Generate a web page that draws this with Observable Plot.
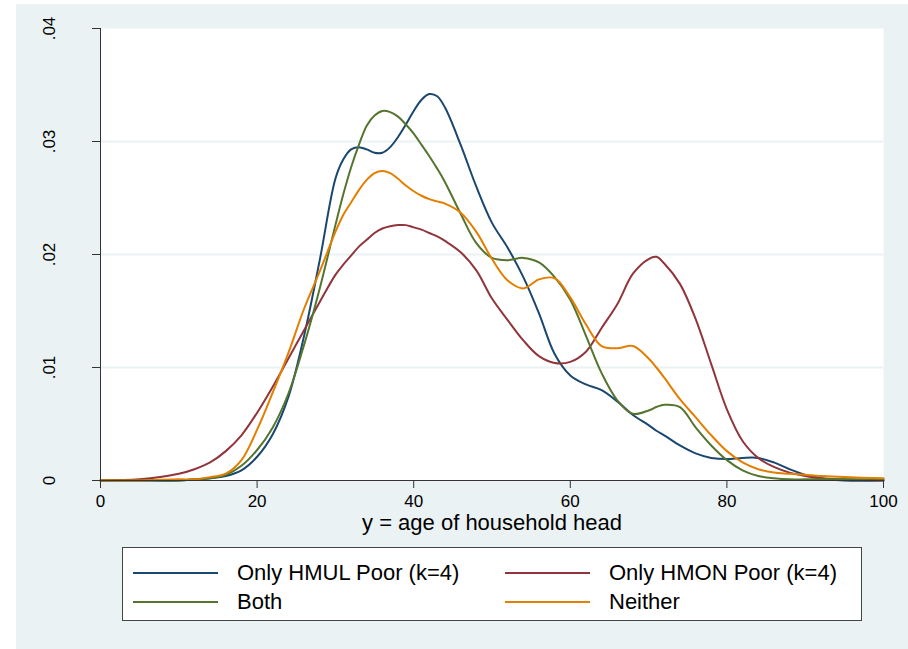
<!DOCTYPE html>
<html>
<head>
<meta charset="utf-8">
<script src="https://cdn.jsdelivr.net/npm/d3@7"></script>
<script src="https://cdn.jsdelivr.net/npm/@observablehq/plot@0.6"></script>
<style>
  html, body { margin: 0; padding: 0; background: #ffffff; }
  body { width: 908px; height: 649px; position: relative; overflow: hidden;
         font-family: "Liberation Sans", Arial, Helvetica, sans-serif; color: #000; }
  #panel { position: absolute; left: 16px; top: 4px; width: 892px; height: 645px; background: #eaf2f3; }
  #chart { position: absolute; left: 0; top: 0; }
  #legend { position: absolute; left: 106px; top: 543px; width: 740px; height: 74px;
            background: #fff; border: 1px solid #444; box-sizing: border-box; }
  .key { position: absolute; height: 2px; width: 85px; }
  .lab { position: absolute; font-size: 22px; line-height: 26px; white-space: nowrap; }
</style>
</head>
<body>
<div id="panel">
  <div id="chart"></div>
  <div id="legend"></div>
</div>
<script>
// ---- data ----
const ages = [0, 5, 10, 12, 14, 16, 18, 20, 22, 24, 26, 28, 30, 31, 32, 33, 34, 35, 36, 37, 38, 39, 40, 41, 42, 43, 44, 46, 48, 50, 52, 54, 56, 58, 60, 62, 64, 66, 68, 70, 71, 72, 74, 76, 78, 80, 82, 84, 86, 88, 90, 92, 95, 100];

const onlyHMUL = [0, 0, 0, 0.0001, 0.0002, 0.0004, 0.0009, 0.0021, 0.0041, 0.0074, 0.0128, 0.0195, 0.0267, 0.0284, 0.0293, 0.0295, 0.0293, 0.0290, 0.0290, 0.0295, 0.0304, 0.0315, 0.0327, 0.0337, 0.0342, 0.0340, 0.0330, 0.0297, 0.0260, 0.0228, 0.0206, 0.0180, 0.0148, 0.0112, 0.0093, 0.0085, 0.0080, 0.0070, 0.0058, 0.0049, 0.0044, 0.0040, 0.0031, 0.0024, 0.0020, 0.0019, 0.0020, 0.0020, 0.0016, 0.0010, 0.0005, 0.0002, 0.0000, 0.0000];

const onlyHMON = [0, 0.0001, 0.0006, 0.0010, 0.0016, 0.0026, 0.0040, 0.0060, 0.0083, 0.0108, 0.0133, 0.0158, 0.0182, 0.0191, 0.0199, 0.0207, 0.0213, 0.0219, 0.0223, 0.0225, 0.0226, 0.0226, 0.0224, 0.0222, 0.0219, 0.0216, 0.0212, 0.0202, 0.0186, 0.0161, 0.0142, 0.0124, 0.0110, 0.0104, 0.0105, 0.0114, 0.0135, 0.0156, 0.0183, 0.0196, 0.0198, 0.0192, 0.0174, 0.0143, 0.0103, 0.0063, 0.0035, 0.0020, 0.0012, 0.0007, 0.0004, 0.0002, 0.0001, 0];

const both = [0, 0, 0, 0.0001, 0.0002, 0.0005, 0.0013, 0.0027, 0.0047, 0.0077, 0.0120, 0.0170, 0.0226, 0.0253, 0.0277, 0.0297, 0.0314, 0.0323, 0.0327, 0.0326, 0.0322, 0.0315, 0.0307, 0.0297, 0.0287, 0.0276, 0.0264, 0.0236, 0.0210, 0.0197, 0.0195, 0.0197, 0.0193, 0.0180, 0.0160, 0.0128, 0.0095, 0.0071, 0.0059, 0.0062, 0.0065, 0.0067, 0.0065, 0.0047, 0.0031, 0.0018, 0.0009, 0.0004, 0.0002, 0.0001, 0.0001, 0.0001, 0.0001, 0.0001];

const neither = [0, 0, 0.0001, 0.0001, 0.0003, 0.0006, 0.0018, 0.0045, 0.0078, 0.0113, 0.0152, 0.0185, 0.0220, 0.0235, 0.0246, 0.0257, 0.0266, 0.0272, 0.0274, 0.0272, 0.0267, 0.0261, 0.0256, 0.0252, 0.0249, 0.0247, 0.0245, 0.0237, 0.0220, 0.0196, 0.0177, 0.0170, 0.0178, 0.0179, 0.0162, 0.0138, 0.0119, 0.0117, 0.0119, 0.0108, 0.0100, 0.0091, 0.0072, 0.0056, 0.0040, 0.0026, 0.0016, 0.0010, 0.0007, 0.0006, 0.0005, 0.0004, 0.0003, 0.0002];

const seriesNames = ["Only HMUL Poor (k=4)", "Only HMON Poor (k=4)", "Both", "Neither"];
const seriesColors = ["#1a476f", "#90353b", "#55752f", "#e37e00"];
const xTicks = [0, 20, 40, 60, 80, 100];
const yTicks = [0, 0.01, 0.02, 0.03, 0.04];
const yTickLabels = ["0", ".01", ".02", ".03", ".04"];
const gridTicks = [0.01, 0.02, 0.03];
const xTitle = "y = age of household head";

// ---- build long table ----
const seriesValues = [onlyHMUL, onlyHMON, both, neither];
const rows = [];
seriesValues.forEach((vals, s) => {
  ages.forEach((a, i) => rows.push({ age: a, density: vals[i], series: seriesNames[s] }));
});

const FONT = "'Liberation Sans', Arial, Helvetica, sans-serif";

const chart = Plot.plot({
  width: 892,
  height: 540,
  marginLeft: 84,
  marginRight: 25,
  marginTop: 24,
  marginBottom: 64,
  style: { background: "transparent", fontFamily: FONT, color: "#000", overflow: "visible" },
  x: { domain: [0, 100] },
  y: { domain: [0, 0.04] },
  color: { domain: seriesNames, range: seriesColors },
  marks: [
    Plot.frame({ fill: "#ffffff", stroke: null }),
    Plot.gridY(gridTicks, { stroke: "#eaf2f3", strokeOpacity: 1, strokeWidth: 2 }),
    Plot.line(rows, { x: "age", y: "density", z: "series", stroke: "series", strokeWidth: 2, curve: "catmull-rom" }),
    Plot.ruleX([0], { stroke: "#333", strokeWidth: 1 }),
    Plot.ruleY([0], { stroke: "#333", strokeWidth: 1 }),
    Plot.axisX({ ticks: xTicks, tickSize: 8, tickPadding: 6, fontSize: 17, label: null, stroke: "#333" }),
    Plot.axisY({ ticks: yTicks, tickSize: 8, tickPadding: 38, tickRotate: -90, fontSize: 17, label: null, stroke: "#333",
                 tickFormat: (d) => yTickLabels[yTicks.indexOf(d)] }),
    Plot.text([xTitle], { frameAnchor: "bottom", dy: 34, lineAnchor: "top", fontSize: 22, fill: "#000" })
  ]
});
document.getElementById("chart").appendChild(chart);

// ---- legend ----
const legend = document.getElementById("legend");
const pos = [
  { lx: 10, tx: 114, cy: 25 },
  { lx: 382, tx: 486, cy: 25 },
  { lx: 10, tx: 114, cy: 54 },
  { lx: 382, tx: 486, cy: 54 }
];
seriesNames.forEach((name, i) => {
  const p = pos[i];
  const key = document.createElement("div");
  key.className = "key";
  key.style.left = p.lx + "px";
  key.style.top = (p.cy - 1) + "px";
  key.style.background = seriesColors[i];
  legend.appendChild(key);
  const lab = document.createElement("div");
  lab.className = "lab";
  lab.style.left = p.tx + "px";
  lab.style.top = (p.cy - 13) + "px";
  lab.textContent = name;
  legend.appendChild(lab);
});
</script>
</body>
</html>
